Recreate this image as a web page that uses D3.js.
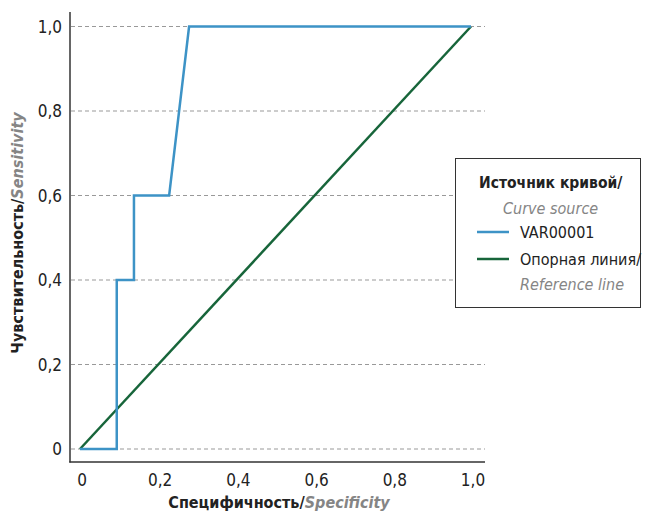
<!DOCTYPE html>
<head>
    <meta charset="utf-8">
    <script src="https://cdn.jsdelivr.net/npm/d3@7"></script>
    <style type="text/css">
        body {
            margin: 0;
            background: #fff;
        }
        svg text {
            font-family: "Liberation Sans Narrow", "DejaVu Sans Condensed", sans-serif;
        }
        .grid line {
            stroke: #999;
            stroke-dasharray: 4, 3;
            stroke-width: 1px;
        }
        .tick-label {
            font-size: 17px;
            fill: #222;
        }
        .en {
            font-style: italic;
            fill: #858585;
            font-weight: normal;
        }
        .en-b {
            font-style: italic;
            fill: #858585;
        }
    </style>
</head>
<body>
    <div id="chart"></div>
</body>
</html>

<script type="text/javascript">
	// ROC curve points: specificity axis (x), sensitivity (y)
	var curveX = [0, 0.094, 0.094, 0.138, 0.138, 0.228, 0.279, 1.0];
	var curveY = [0, 0, 0.4, 0.4, 0.6, 0.6, 1.0, 1.0];
	var refX = [0, 1];
	var refY = [0, 1];
	var ticks = [0, 0.2, 0.4, 0.6, 0.8, 1.0];
	var tickLabels = ["0", "0,2", "0,4", "0,6", "0,8", "1,0"];

	var width = 646, height = 516;
	var blue = "#3d93c6", green = "#17653a";

	var x = d3.scaleLinear().domain([0, 1]).range([80, 471]);
	var y = d3.scaleLinear().domain([0, 1]).range([449, 26.5]);

	var svg = d3.select("#chart").append("svg")
		.attr("width", width)
		.attr("height", height);

	// horizontal dashed grid
	svg.append("g").attr("class", "grid")
		.selectAll("line")
		.data(ticks)
		.enter().append("line")
		.attr("x1", 71).attr("x2", 485)
		.attr("y1", function(d) { return y(d); })
		.attr("y2", function(d) { return y(d); });

	// axis lines
	svg.append("line")
		.attr("x1", 70).attr("x2", 70).attr("y1", 12).attr("y2", 462.5)
		.attr("stroke", "#333").attr("stroke-width", 1.5);
	svg.append("line")
		.attr("x1", 69.3).attr("x2", 485).attr("y1", 462).attr("y2", 462)
		.attr("stroke", "#333").attr("stroke-width", 1.5);

	// tick labels
	svg.selectAll(".ylab")
		.data(ticks)
		.enter().append("text")
		.attr("class", "tick-label")
		.attr("x", 62)
		.attr("y", function(d) { return y(d) + 6; })
		.attr("text-anchor", "end")
		.text(function(d, i) { return tickLabels[i]; });

	svg.selectAll(".xlab")
		.data(ticks)
		.enter().append("text")
		.attr("class", "tick-label")
		.attr("x", function(d) { return x(d) + 2; })
		.attr("y", 486)
		.attr("text-anchor", "middle")
		.text(function(d, i) { return tickLabels[i]; });

	// lines
	var line = d3.line()
		.x(function(d) { return x(d[0]); })
		.y(function(d) { return y(d[1]); });

	svg.append("path")
		.datum(d3.zip(refX, refY))
		.attr("d", line)
		.attr("fill", "none")
		.attr("stroke", green)
		.attr("stroke-width", 2.5);

	svg.append("path")
		.datum(d3.zip(curveX, curveY))
		.attr("d", line)
		.attr("fill", "none")
		.attr("stroke", blue)
		.attr("stroke-width", 2.5);

	// axis titles
	var xt = svg.append("text")
		.attr("x", 279).attr("y", 508)
		.attr("text-anchor", "middle")
		.attr("font-size", 16)
		.attr("font-weight", "bold")
		.attr("fill", "#222");
	xt.append("tspan").text("Специфичность/");
	xt.append("tspan").attr("class", "en-b").text("Specificity");

	var yt = svg.append("text")
		.attr("transform", "translate(23,233) rotate(-90)")
		.attr("text-anchor", "middle")
		.attr("font-size", 16)
		.attr("font-weight", "bold")
		.attr("fill", "#222");
	yt.append("tspan").text("Чувствительность/");
	yt.append("tspan").attr("class", "en-b").text("Sensitivity");

	// legend
	var lg = svg.append("g");
	lg.append("rect")
		.attr("x", 455.5).attr("y", 158.5)
		.attr("width", 185).attr("height", 149)
		.attr("fill", "#fff")
		.attr("stroke", "#333")
		.attr("stroke-width", 1);

	lg.append("text").attr("x", 479).attr("y", 188)
		.attr("font-size", 15.5).attr("font-weight", "bold").attr("fill", "#222")
		.text("Источник кривой/");
	lg.append("text").attr("x", 503).attr("y", 214)
		.attr("font-size", 16).attr("class", "en")
		.text("Curve source");

	var items = [
		{ color: blue, label: "VAR00001", sub: null },
		{ color: green, label: "Опорная линия/", sub: "Reference line" }
	];
	items.forEach(function(it, i) {
		var cy = 232 + i * 27;
		lg.append("line")
			.attr("x1", 477).attr("x2", 509)
			.attr("y1", cy).attr("y2", cy)
			.attr("stroke", it.color).attr("stroke-width", 2.5);
		lg.append("text").attr("x", 520).attr("y", cy + 6)
			.attr("font-size", 16).attr("fill", "#222")
			.text(it.label);
		if (it.sub) {
			lg.append("text").attr("x", 520).attr("y", cy + 31)
				.attr("font-size", 16).attr("class", "en")
				.text(it.sub);
		}
	});
</script>
